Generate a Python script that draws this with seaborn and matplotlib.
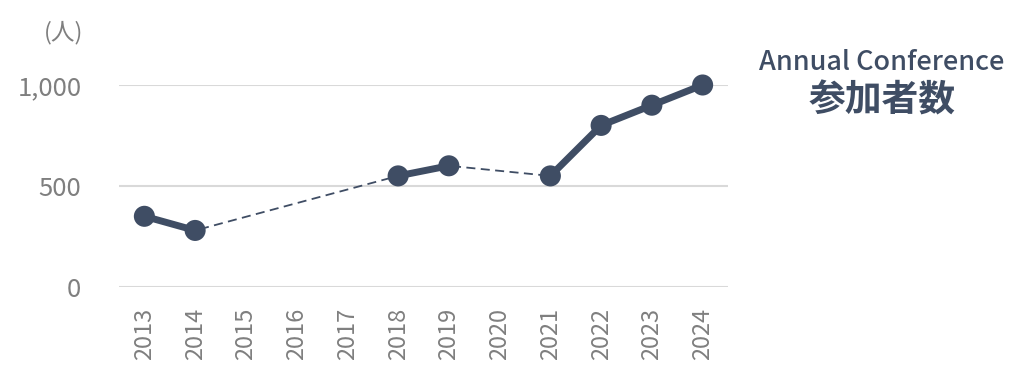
import numpy as np
import pandas as pd
import matplotlib
matplotlib.use("Agg")
import matplotlib.pyplot as plt
import seaborn as sns

years = [2013, 2014, 2015, 2016, 2017, 2018, 2019, 2020, 2021, 2022, 2023, 2024]
attendees = [350, 280, np.nan, np.nan, np.nan, 550, 600, np.nan, 550, 800, 900, 1000]
y_ticks = [0, 500, 1000]
y_tick_labels = ["0", "500", "1,000"]
unit_label = "(人)"
title_en = "Annual Conference"
title_jp = "参加者数"

NAVY = "#3F4D64"
GREY = "#7F7F7F"
GRID = "#D9D9D9"

sns.set_theme(style="white")
plt.rcParams["font.family"] = ["Noto Sans CJK JP", "DejaVu Sans"]

df = pd.DataFrame({"year": years, "value": attendees})
valid = df.dropna().copy()
# segments of consecutive years
valid["seg"] = (valid["year"].diff() != 1).cumsum()

fig = plt.figure(figsize=(10.24, 3.75), dpi=100)
ax = fig.add_axes([119 / 1024, 1 - 287 / 375, (728 - 119) / 1024, (287 - 85) / 375])

# dashed connector across missing years
sns.lineplot(data=valid, x="year", y="value", ax=ax, color=NAVY, lw=1.3,
             linestyle=(0, (5, 3)), estimator=None, clip_on=False, zorder=2)
# thick solid lines for consecutive years
sns.lineplot(data=valid, x="year", y="value", units="seg", estimator=None, ax=ax,
             color=NAVY, lw=5, clip_on=False, zorder=3, solid_capstyle="round")
sns.scatterplot(data=valid, x="year", y="value", ax=ax, color=NAVY, s=230,
                edgecolor="none", clip_on=False, zorder=4)

ax.set_xlim(years[0] - 0.5, years[-1] + 0.5)
ax.set_ylim(0, 1000)
ax.set_xticks(years)
ax.set_xticklabels([str(y) for y in years], rotation=90, fontsize=17, color=GREY)
ax.set_yticks(y_ticks)
ax.set_yticklabels(y_tick_labels, fontsize=18.5, color=GREY)
ax.tick_params(axis="x", length=0, pad=15)
ax.tick_params(axis="y", length=0, pad=27)
ax.grid(axis="y", color=GRID, lw=1.5)
ax.grid(axis="x", visible=False)
for s in ax.spines.values():
    s.set_visible(False)
ax.set_xlabel("")
ax.set_ylabel("")
if ax.legend_:
    ax.legend_.remove()

fig.text(83 / 1024, 1 - 33 / 375, unit_label, ha="right", va="center", fontsize=17, color=GREY)
fig.text(882 / 1024, 1 - 62 / 375, title_en, ha="center", va="center", fontsize=19.5,
         color=NAVY, fontweight="medium")
fig.text(882 / 1024, 1 - 101 / 375, title_jp, ha="center", va="center", fontsize=26.5,
         color=NAVY, fontweight="bold")

fig.savefig("out.png", dpi=100, facecolor="white")
